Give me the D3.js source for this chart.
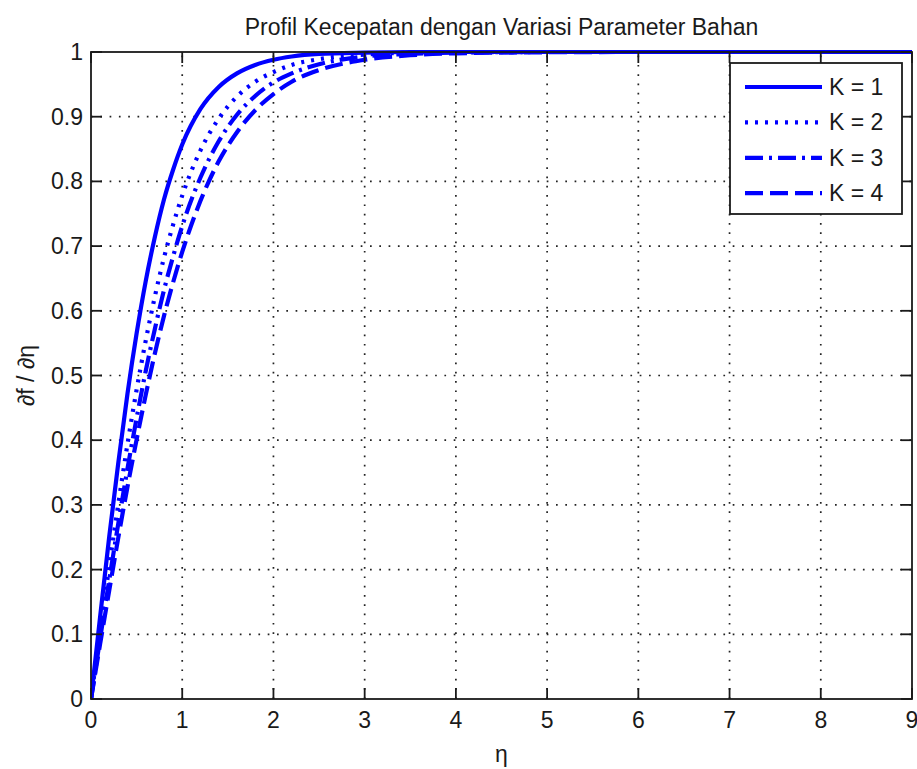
<!DOCTYPE html>
<html><head><meta charset="utf-8">
<script src="https://cdn.jsdelivr.net/npm/d3@7"></script>
<style>
body{margin:0;background:#fff}
svg{display:block}
text{font-family:"Liberation Sans",Arial,Helvetica,sans-serif;fill:#1a1a1a}
</style>
</head><body>
<svg id="chart" width="917" height="769"></svg>
<script>
// ---- data ----
const eta = [0,0.1,0.2,0.3,0.4,0.5,0.6,0.7,0.8,0.9,1.0,1.2,1.4,1.6,1.8,2.0,2.2,2.5,3.0,3.5,4,5,6,7,8,9];
const k1 = [0,0.127,0.251,0.366,0.472,0.565,0.646,0.714,0.772,0.818,0.857,0.912,0.946,0.967,0.980,0.988,0.993,0.997,0.999,1,1,1,1,1,1,1];
const k2 = [0,0.104,0.205,0.302,0.394,0.478,0.554,0.622,0.682,0.733,0.778,0.848,0.897,0.931,0.954,0.969,0.980,0.989,0.996,0.999,0.9995,1,1,1,1,1];
const k3 = [0,0.093,0.184,0.272,0.356,0.434,0.507,0.572,0.632,0.684,0.731,0.806,0.862,0.903,0.932,0.953,0.967,0.981,0.993,0.997,0.999,1,1,1,1,1];
const k4 = [0,0.085,0.168,0.250,0.328,0.401,0.470,0.534,0.592,0.644,0.691,0.770,0.831,0.876,0.910,0.935,0.954,0.972,0.988,0.995,0.998,0.9996,1,1,1,1];
const seriesNames = ["K = 1","K = 2","K = 3","K = 4"];
const xTicks = [0,1,2,3,4,5,6,7,8,9];
const yTicks = [0,0.1,0.2,0.3,0.4,0.5,0.6,0.7,0.8,0.9,1];
const yTickLabels = ["0","0.1","0.2","0.3","0.4","0.5","0.6","0.7","0.8","0.9","1"];
const titleText = "Profil Kecepatan dengan Variasi Parameter Bahan";
const xLabelText = "η";
const yLabelText = "∂f / ∂η";

// ---- layout ----
const L = 91, R = 912, T = 52, B = 699;
const FS = 23;
const svg = d3.select("#chart");
const x = d3.scaleLinear().domain([0,9]).range([L,R]);
const y = d3.scaleLinear().domain([0,1]).range([B,T]);

const dashes = [null, "3,7", "18,6,3,6", "18,7"];
const series = [k1,k2,k3,k4].map((vals,i)=>({name:seriesNames[i], dash:dashes[i], pts: eta.map((e,j)=>[e, vals[j]])}));

// grid
const grid = svg.append("g").attr("stroke","#222").attr("stroke-width",1.7).attr("stroke-dasharray","1.7,7.6");
xTicks.slice(1,-1).forEach(t=>grid.append("line").attr("x1",x(t)).attr("x2",x(t)).attr("y1",B).attr("y2",T));
yTicks.slice(1,-1).forEach(t=>grid.append("line").attr("x1",L).attr("x2",R).attr("y1",y(t)).attr("y2",y(t)));

// curves
svg.append("clipPath").attr("id","clip").append("rect").attr("x",L).attr("y",T-3).attr("width",R-L).attr("height",B-T+3);
const line = d3.line().x(d=>x(d[0])).y(d=>y(d[1])).curve(d3.curveMonotoneX);
const cg = svg.append("g").attr("clip-path","url(#clip)");
series.forEach(s=>{
  cg.append("path").attr("d",line(s.pts)).attr("fill","none").attr("stroke","#0000ff")
    .attr("stroke-width",4.2).attr("stroke-dasharray",s.dash);
});

// axes (box with inward ticks)
const TL = 11;
const ax = svg.append("g").attr("stroke","#1a1a1a").attr("stroke-width",1.8);
ax.append("rect").attr("x",L).attr("y",T).attr("width",R-L).attr("height",B-T).attr("fill","none");
xTicks.forEach(t=>{
  ax.append("line").attr("x1",x(t)).attr("x2",x(t)).attr("y1",B).attr("y2",B-TL);
  ax.append("line").attr("x1",x(t)).attr("x2",x(t)).attr("y1",T).attr("y2",T+TL);
});
yTicks.forEach(t=>{
  ax.append("line").attr("x1",L).attr("x2",L+TL).attr("y1",y(t)).attr("y2",y(t));
  ax.append("line").attr("x1",R).attr("x2",R-TL).attr("y1",y(t)).attr("y2",y(t));
});
svg.append("g").selectAll("text").data(xTicks).join("text")
  .attr("x",d=>x(d)).attr("y",B+29).attr("text-anchor","middle").attr("font-size",FS).text(d=>String(d));
svg.append("g").selectAll("text").data(yTicks).join("text")
  .attr("x",L-8).attr("y",d=>y(d)+8).attr("text-anchor","end").attr("font-size",FS).text((d,i)=>yTickLabels[i]);

// labels
svg.append("text").attr("x",(L+R)/2).attr("y",35).attr("text-anchor","middle").attr("font-size",FS).text(titleText);
svg.append("text").attr("x",(L+R)/2).attr("y",762).attr("text-anchor","middle").attr("font-size",FS).text(xLabelText);
svg.append("text").attr("transform",`translate(34,${(T+B)/2}) rotate(-90)`).attr("text-anchor","middle").attr("font-size",FS).text(yLabelText);

// legend
const lg = svg.append("g");
lg.append("rect").attr("x",730).attr("y",63).attr("width",172).attr("height",151).attr("fill","#fff").attr("stroke","#1a1a1a").attr("stroke-width",1.8);
series.forEach((s,i)=>{
  const yy = 87 + i*35.4;
  lg.append("line").attr("x1",745).attr("x2",822).attr("y1",yy).attr("y2",yy).attr("stroke","#0000ff").attr("stroke-width",4.2).attr("stroke-dasharray",s.dash);
  lg.append("text").attr("x",829).attr("y",yy+8).attr("font-size",FS).text(s.name);
});
</script>
</body></html>
